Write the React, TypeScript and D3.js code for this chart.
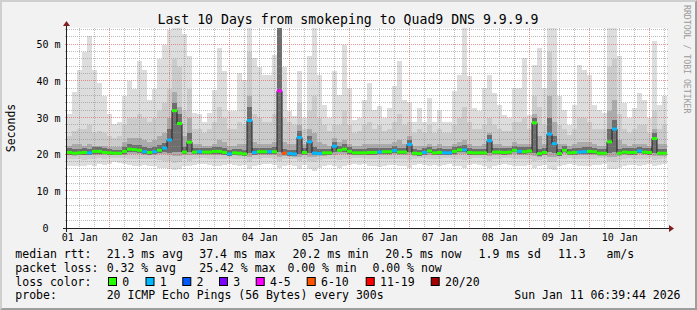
import React from "react";
import * as d3 from "d3";

// ---- data (ms), one value per 2-hour step, 10 days ----
const startTime = new Date(2026, 0, 1, 6, 55, 0);
const stepHours = 2;

const medianRtt = [
  20.6,20.4,20.5,20.6,20.5,20.9,20.9,20.6,20.5,20.4,20.4,20.9,21.5,21.4,21.2,20.8,20.6,20.8,21.2,21.8,24,32,28.5,20.7,
  23.4,20.7,20.8,20.7,20.7,20.9,20.9,20.6,20.2,20.5,20.4,20.2,29.3,20.6,20.8,20.8,20.8,20.8,37.4,20.4,20.3,20.2,24.7,20.6,
  23.5,20.4,20.3,20.5,20.5,22.3,21.2,21.5,20.9,20.5,20.5,20.5,20.6,20.6,20.7,20.8,20.8,21.1,20.7,20.7,22.8,20.4,20.3,20.6,
  21,20.5,20.6,20.5,20.5,20.9,21.3,21.3,20.6,20.5,20.5,20.5,23.8,20.7,20.7,20.6,20.7,21.2,20.9,20.8,21,28.7,20.3,20.6,
  25.6,23,20.3,21.2,20.5,20.6,20.7,20.8,20.9,20.8,20.4,20.4,23.5,27,20.4,20.7,20.6,20.6,21,20.7,20.6,24.4,20.4,20.4,
];
const lossBucket = [
  0,0,0,0,1,0,0,0,0,0,0,0,0,0,0,1,0,1,0,1,1,0,0,0,
  0,0,1,0,0,0,0,0,1,0,0,0,1,1,0,0,1,0,4,5,1,1,1,0,
  1,1,1,0,0,1,0,0,0,0,0,0,0,0,1,0,0,1,0,0,1,0,0,1,
  0,0,0,1,1,0,0,1,0,0,0,0,1,0,0,0,0,0,1,0,0,0,0,0,
  1,1,0,0,0,0,1,1,0,0,0,0,0,1,0,0,0,0,1,0,0,0,0,0,
];
const pingMax = [
  31,37,43,48,52.5,43,39.5,36,31,28.5,29,36,40,38,45.5,43,35,38,46,50,54,55,55,53,
  47,31.4,31,29,31.4,37.7,49,42.7,32,31.8,42.3,40.5,55,46.4,44,41.8,41.8,47.3,55,44,31.8,30.5,42.7,30,
  46.8,54.5,41.8,33.6,30,42.7,36.4,50,38.2,29.5,30,35,39.5,32.3,33.2,30,32.7,38.6,45.5,35,34.5,29,32.7,29,
  35.5,29,32.3,29,29,37.3,41.8,55,41.4,32.7,31.8,38.2,41.8,36.8,33.6,30.9,30,38.2,38.2,46.5,30.9,44.5,49,38.2,
  55,55,36,32.3,28.2,33.6,44.5,43.2,41.8,33.6,32.3,31.4,55,55,46.8,34,30,32.7,36.8,35,30,50.9,33.6,36,
];
const pingUpper = [
  25,26.5,27,27,28,26,26.5,26,25,24.5,25,28,30,30,31,30,29,30,32,34,38,46,44,32,
  38,27,27,26,27,29,33,30,27,27,29,28,48,31,30,29,29,31,55,30,29,28,34,27,
  32,36,30,28,26.5,28,28,32,28,26,26.5,28,29,27,28,26.5,27,29,31,28,29,26,27,26,
  28,26,27,26,26,28,30,33,29,27,27,28,30,28,27,26.5,26.5,29,29,30,27,36,33,28,
  48,40,28,27,25.5,27,30,30,29,27,27,27,44,46,31,27,26,27,28,28,26,32,27,28,
];
const pingInner = [
  22.5,23,23,22.5,23,22.5,22.5,22.5,22,22,22,23.5,24.5,24.5,24.5,24,23.5,24,25,26,30,37,33,25,
  30,23,23,22.5,22.5,23,24,23.5,22.5,22.5,23,23,36,23.5,23,23,23,23.5,55,23.5,23,23,28,23,
  27,26,23.5,23,22.5,24.5,23.5,24,23,22.5,22.5,23,23,23,23,23,23,23.5,24,23,25,22.5,22.5,22.5,
  23,22.5,23,22.5,22.5,23,23.5,24,23,22.5,22.5,23,26,23,23,22.5,22.5,23.5,23,23,23,31,25,23,
  36,29,23,23,22.5,23,23.5,23.5,23.5,23,22.5,22.5,32,35,24,23,22.5,23,23,23,22.5,27,23,23,
];
const pingCoreHigh = [
  21.7,21.5,21.6,21.7,21.6,22,22,21.7,21.5,21.4,21.4,22.2,22.8,22.7,22.6,22,21.8,22,22.6,23.2,27,34,31,22,
  26,21.8,21.9,21.8,21.8,22,22.2,21.8,21.3,21.6,21.6,21.4,33,21.9,21.9,21.9,21.9,22,55,21.6,21.4,21.3,26.5,21.7,
  25,22,21.5,21.6,21.6,23.5,22.4,22.8,22,21.6,21.6,21.6,21.7,21.7,21.8,21.9,21.9,22.3,21.9,21.8,24,21.5,21.4,21.7,
  22.2,21.6,21.7,21.6,21.6,22,22.5,22.6,21.7,21.6,21.6,21.6,25.5,21.8,21.8,21.7,21.8,22.4,22,22,22.2,30,21.5,21.7,
  30,25,21.5,22.4,21.6,21.7,21.9,22,22,21.9,21.5,21.5,27,29.5,21.6,21.8,21.7,21.7,22.2,21.8,21.7,26,21.5,21.5,
];
const pingCoreLow = [
  20,19.9,20,20,20,20.3,20.3,20.1,20,19.9,19.9,20.3,20.8,20.7,20.5,20.2,20,20.2,20.5,20.8,20.5,20.8,20.6,20.1,
  20.6,20.1,20.2,20.1,20.1,20.3,20.3,20,19.7,19.9,19.8,19.7,20.5,20,20.2,20.2,20.2,20.2,20.8,19.8,19.7,19.6,20.3,20,
  20.5,19.8,19.8,19.9,19.9,20.6,20.6,20.8,20.3,19.9,19.9,19.9,20,20,20.1,20.2,20.2,20.5,20.1,20.1,20.8,19.8,19.7,20,
  20.4,19.9,20,19.9,19.9,20.3,20.7,20.7,20,19.9,19.9,19.9,20.4,20.1,20.1,20,20.1,20.6,20.3,20.2,20.4,20.5,19.7,20,
  20.6,20.5,19.7,20.6,19.9,20,20.1,20.2,20.3,20.2,19.8,19.8,20.5,20.6,19.8,20.1,20,20,20.4,20.1,20,20.4,19.8,19.8,
];
const pingInnerLow = [
  19.8,19.7,19.8,19.8,19.8,20,20,19.9,19.8,19.8,19.8,20,20.2,20.2,20.1,19.9,19.8,19.9,20.1,20.3,19.8,19.6,19.7,19.9,
  19.9,19.9,19.9,19.9,19.9,20,20,19.8,19.6,19.8,19.7,19.6,19.5,19.8,19.9,19.9,19.9,19.9,19.4,19.6,19.6,19.5,19.5,19.8,
  19.5,19.4,19.6,19.7,19.8,19.8,20.1,20.3,20,19.8,19.8,19.8,19.8,19.8,19.9,19.9,19.9,20.1,19.9,19.9,19.8,19.7,19.6,19.8,
  19.9,19.8,19.8,19.8,19.8,20,20.3,20.3,19.9,19.8,19.8,19.8,19.6,19.9,19.9,19.8,19.9,20.2,20,19.9,20,19.6,19.5,19.8,
  19.5,19.5,19.6,20.1,19.8,19.8,19.9,19.9,20,19.9,19.7,19.7,19.5,19.5,19.6,19.9,19.8,19.8,20.1,19.9,19.8,19.6,19.6,19.6,
];
const pingLower = [
  18.8,18.7,18.8,18.6,18.8,18.9,19,18.9,19,19.2,19.1,19,18.9,18.8,18.8,18.9,18.8,18.7,18.5,18.4,18.2,17.8,18,18.8,
  18.4,18.9,19,19,18.9,18.8,18.8,18.9,19,18.9,18.8,18.9,18,18.8,18.9,19,19,18.9,18.2,18.8,18.9,18.8,18.3,18.9,
  18.2,18,18.5,18.8,18.9,18.7,18.6,18.8,18.9,19,19,19,18.8,18.8,18.7,18.8,18.9,18.9,18.8,18.7,18.6,18.9,19,19,
  18.8,18.9,18.9,19,19,18.8,18.8,18.6,18.9,19,19,18.8,18.4,18.8,18.9,19,19,18.8,18.8,18.8,18.9,18.3,18.6,18.9,
  18,17.9,18.8,18.9,19,18.9,18.8,18.8,18.8,18.9,19,19,18.2,18,18.5,18.8,19,18.9,18.8,18.9,19,18.6,18.9,19,
];
const pingMin = [
  17,16.8,17,16.8,17.2,17,17.5,17.3,17.5,18,17.8,17.5,17.3,17,17,17.2,17,16.8,16.5,16.5,16.2,15.8,16,17,
  16.8,17.3,17.5,17.5,17.2,17,17,17.3,17.5,17.3,17,17.2,16.2,17,17.3,17.5,17.5,17.2,16.5,17,17.3,16.8,16.2,17.2,
  16,15.5,16.5,17,17.2,16.8,16.5,17,17.2,17.5,17.3,17.5,17,16.8,16.6,17,17.3,17.2,17,16.8,16.5,17.2,17.5,17.3,
  16.8,17.2,17,17.3,17.5,17,16.8,16.5,17.2,17.5,17.3,17,16.5,17,17.2,17.5,17.3,17,16.8,17,17.3,16.5,16.8,17.2,
  16,15.8,17,17.3,17.5,17.2,17,16.8,17,17.2,17.3,17.5,16.2,16,16.5,17,17.3,17.2,17,17.3,17.5,16.8,17.2,17.5,
];

const yTickValues = [0, 10, 20, 30, 40, 50];
const yTickLabels = ["0\u00a0\u00a0", "10 m", "20 m", "30 m", "40 m", "50 m"];
const xTickLabels = ["01 Jan", "02 Jan", "03 Jan", "04 Jan", "05 Jan", "06 Jan", "07 Jan", "08 Jan", "09 Jan", "10 Jan"];

const lossColors = ["#26ff00", "#00b8ff", "#0059ff", "#7e00ff", "#ff00ff", "#ff5500", "#ff0000", "#a10000"];
const lossLabels = ["0", "1", "2", "3", "4-5", "6-10", "11-19", "20/20"];
const medianStats = ["21.3 ms avg", "37.4 ms max", "20.2 ms min", "20.5 ms now", "1.9 ms sd", "11.3", "am/s"];
const lossStats = ["0.32 % avg", "25.42 % max", "0.00 % min", "0.00 % now"];

const FONT = "'DejaVu Sans Mono', monospace";

export default function App() {
  const W = 697, H = 310;
  const left = 67, right = 667, top = 28, bottom = 228;
  const n = medianRtt.length;
  const tAt = (i: number) => d3.timeHour.offset(startTime, i * stepHours);
  const endTime = tAt(n);
  const x = d3.scaleTime().domain([startTime, endTime]).range([left, right]);
  const y = d3.scaleLinear().domain([0, 54.55]).range([bottom, top]).clamp(true);
  const idx = d3.range(n);

  const layers = [
    { lo: pingMin, hi: pingMax, color: "#dddddd" },
    { lo: pingLower, hi: pingUpper, color: "#cbcbcb" },
    { lo: pingInnerLow, hi: pingInner, color: "#ababab" },
    { lo: pingCoreLow, hi: pingCoreHigh, color: "#6e6e6e" },
  ];

  const crisp = (v: number) => Math.round(v) + 0.5;

  const majorDays = d3.timeDay.range(d3.timeDay.ceil(startTime), endTime);
  const minorHours = d3.timeHour.every(6)!.range(startTime, endTime).filter((d) => d.getHours() !== 0);
  const labelDays = d3.timeDay.range(d3.timeDay.floor(startTime), endTime)
    .map((d) => d3.timeHour.offset(d, 12))
    .filter((d) => d < endTime);

  const hMinor = d3.range(2, 55, 2).filter((v) => v % 10 !== 0 && y(v) > top);
  const hMajor = yTickValues.filter((v) => v > 0);

  const medLine = d3.line<number>()
    .x((i) => x(tAt(i)))
    .y((i) => y(medianRtt[Math.min(i, n - 1)]))
    .curve(d3.curveStepAfter)(d3.range(n + 1));

  const legY = [257.7, 271.5, 285.5, 299.2];
  const medX = [106.7, 199.3, 292.6, 385.3, 478.6, 558, 606.5];
  const lossX = [106.7, 199.3, 287.5, 372.5];
  const boxX = [108, 145.5, 182.3, 219, 255.7, 306.7, 365.7, 430.7];

  return (
    <svg width={W} height={H} style={{ position: "absolute", left: 0, top: 0 }} fontFamily={FONT}>
      <rect x={0} y={0} width={W} height={H} fill="#f2f2f2" />
      <polygon points={`0,0 ${W},0 ${W - 2},2 2,2 2,${H - 2} 0,${H}`} fill="#cfcfcf" />
      <polygon points={`${W},0 ${W},${H} 0,${H} 2,${H - 2} ${W - 2},${H - 2} ${W - 2},2`} fill="#9e9e9e" />
      <rect x={left} y={top} width={right - left} height={bottom - top} fill="#ffffff" />

      {/* smoke */}
      {layers.map((L, li) => (
        <g key={li}>
          {idx.map((i) => {
            const x0 = x(tAt(i)), x1 = x(tAt(i + 1));
            const y0 = y(L.hi[i]), y1 = y(L.lo[i]);
            return <rect key={i} x={x0} y={y0} width={x1 - x0} height={Math.max(0, y1 - y0)} fill={L.color} shapeRendering="crispEdges" />;
          })}
        </g>
      ))}

      {/* grid */}
      <g strokeDasharray="1,1" strokeWidth={1} fill="none">
        {hMinor.map((v) => (
          <line key={"hm" + v} x1={left - 2} x2={right + 2} y1={crisp(y(v)) - 1} y2={crisp(y(v)) - 1} stroke="rgba(143,143,143,0.6)" />
        ))}
        {minorHours.map((d) => (
          <line key={"vm" + +d} x1={crisp(x(d)) - 1} x2={crisp(x(d)) - 1} y1={top} y2={bottom + 2} stroke="rgba(143,143,143,0.6)" />
        ))}
        {hMajor.map((v) => (
          <line key={"hM" + v} x1={left - 2} x2={right + 2} y1={crisp(y(v)) - 1} y2={crisp(y(v)) - 1} stroke="rgba(222,80,80,0.6)" />
        ))}
        {majorDays.map((d) => (
          <line key={"vM" + +d} x1={crisp(x(d)) - 1} x2={crisp(x(d)) - 1} y1={top} y2={bottom + 2} stroke="rgba(222,80,80,0.6)" />
        ))}
      </g>

      {/* median */}
      <path d={medLine || ""} fill="none" stroke="#202020" strokeWidth={1} />
      {idx.map((i) => (
        <line key={"m" + i} x1={x(tAt(i))} x2={x(tAt(i + 1))} y1={y(medianRtt[i])} y2={y(medianRtt[i])}
          stroke={lossColors[lossBucket[i]]} strokeWidth={3} />
      ))}

      {/* axes */}
      <line x1={left - 4} x2={right + 3} y1={bottom + 0.5} y2={bottom + 0.5} stroke="#1f1f1f" />
      <line x1={left - 0.5} x2={left - 0.5} y1={bottom + 4} y2={top - 3} stroke="#1f1f1f" />
      <polygon points={`${right + 2},${bottom - 3} ${right + 2},${bottom + 4} ${right + 7},${bottom + 0.5}`} fill="#7f1f1f" />
      <polygon points={`${left - 4},${top - 2} ${left + 3},${top - 2} ${left - 0.5},${top - 7}`} fill="#7f1f1f" />

      {/* axis labels */}
      <g fontSize={10} fill="#000">
        {yTickValues.map((v, k) => (
          <text key={"yl" + v} x={60.5} y={y(v) + 3.8} textAnchor="end" style={{ whiteSpace: "pre" }}>{yTickLabels[k]}</text>
        ))}
        {labelDays.map((d, k) => (
          <text key={"xl" + k} x={x(d)} y={241} textAnchor="middle">{xTickLabels[k]}</text>
        ))}
      </g>

      <text x={348} y={24} textAnchor="middle" fontSize={13.2} fill="#000">Last 10 Days from smokeping to Quad9 DNS 9.9.9.9</text>
      <text transform="translate(15,128) rotate(-90)" textAnchor="middle" fontSize={11.5} fill="#000">Seconds</text>
      <text transform="translate(684,5) rotate(90)" fontSize={8.2} fill="#9a9a9a">RRDTOOL / TOBI OETIKER</text>

      {/* legend */}
      <g fontSize={11.5} fill="#000">
        <text x={15.3} y={legY[0]}>median rtt:</text>
        {medianStats.map((s, k) => <text key={"ms" + k} x={medX[k]} y={legY[0]}>{s}</text>)}
        <text x={15.3} y={legY[1]}>packet loss:</text>
        {lossStats.map((s, k) => <text key={"ls" + k} x={lossX[k]} y={legY[1]}>{s}</text>)}
        <text x={15.3} y={legY[2]}>loss color:</text>
        {lossLabels.map((s, k) => (
          <g key={"lc" + k}>
            <rect x={boxX[k] + 0.5} y={277.5} width={8} height={8} fill={lossColors[k]} stroke="#000" strokeWidth={1} />
            <text x={boxX[k] + 14.3} y={legY[2]}>{s}</text>
          </g>
        ))}
        <text x={15.3} y={legY[3]}>probe:</text>
        <text x={106.7} y={legY[3]}>20 ICMP Echo Pings (56 Bytes) every 300s</text>
        <text x={680.5} y={legY[3]} textAnchor="end">Sun Jan 11 06:39:44 2026</text>
      </g>
    </svg>
  );
}
